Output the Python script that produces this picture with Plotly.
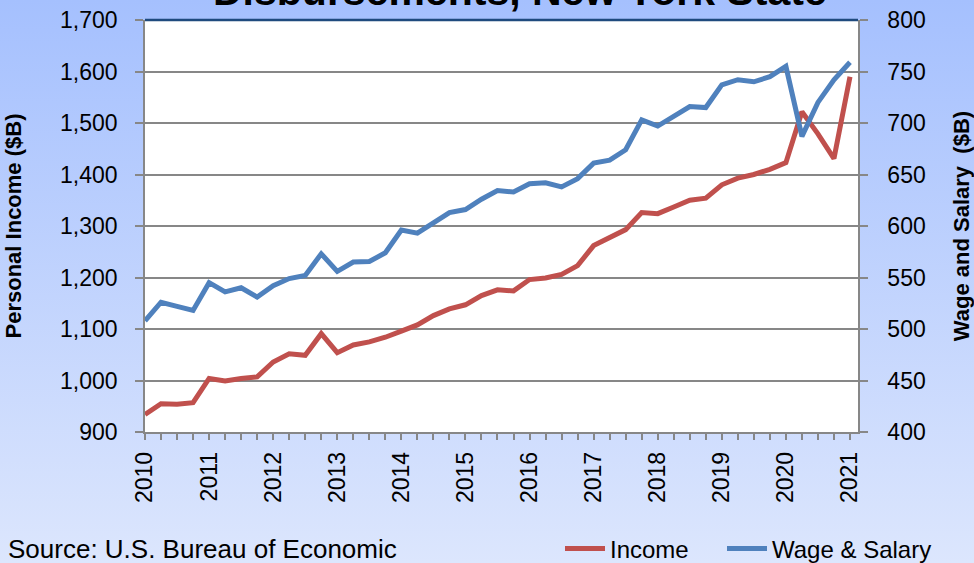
import base64
import plotly.graph_objects as go

# ---- data (quarterly, 2010Q1 .. 2021Q1) ----
quarters = list(range(45))
income = [934, 955, 954, 957, 1004, 999, 1004, 1007, 1036, 1052, 1049, 1091,
          1054, 1069, 1075, 1084, 1096, 1108, 1126, 1139, 1147, 1165, 1176,
          1174, 1196, 1199, 1206, 1223, 1262, 1278, 1293, 1326, 1324, 1337,
          1350, 1354, 1380, 1393, 1400, 1410, 1423, 1522, 1479, 1431, 1590]
wage = [508, 526, 522, 518, 545, 536, 540, 531, 542, 549, 552, 573,
        556, 565, 565.5, 574, 596, 593, 603, 613, 616, 626, 634.5,
        633, 641, 642, 638, 646, 661, 664, 674, 703, 697, 706,
        716, 715, 737, 742, 740, 745, 755, 687, 720, 742, 759]
years = [str(y) for y in range(2010, 2022)]
tick_text = [years[q // 4] if q % 4 == 0 else "" for q in quarters]

W, H = 974, 563
L, R, T, B = 145, 974 - 858, 20, 563 - 432
pw, ph = W - L - R, H - T - B

FONT = "Liberation Sans, Arial, sans-serif"
GRID = "#878787"

svg = ('<svg xmlns="http://www.w3.org/2000/svg" width="974" height="563">'
       '<defs><linearGradient id="g" x1="0" y1="0" x2="0" y2="1">'
       '<stop offset="0" stop-color="#A5C0FE"/><stop offset="1" stop-color="#DCE6FD"/>'
       '</linearGradient></defs><rect width="974" height="563" fill="url(#g)"/></svg>')
bg_src = "data:image/svg+xml;base64," + base64.b64encode(svg.encode()).decode()

fig = go.Figure()
fig.add_trace(go.Scatter(x=quarters, y=income, name="Income", mode="lines",
                         line=dict(color="#C0504D", width=5), legend="legend"))
fig.add_trace(go.Scatter(x=quarters, y=wage, name="Wage & Salary", mode="lines",
                         line=dict(color="#4F81BD", width=5), yaxis="y2", legend="legend2"))

leg_common = dict(orientation="h", y=-(549 - 432) / ph, xanchor="left", yanchor="middle",
                  bgcolor="rgba(0,0,0,0)", font=dict(size=24), itemwidth=40)

fig.update_layout(
    template="none",
    width=W, height=H,
    margin=dict(l=L, r=R, t=T, b=B, pad=0, autoexpand=False),
    paper_bgcolor="#C4D5FE",
    plot_bgcolor="rgba(0,0,0,0)",
    font=dict(family=FONT, color="#000000", size=22),
    images=[dict(source=bg_src, xref="paper", yref="paper",
                 x=-L / pw, y=1 + T / ph, sizex=W / pw, sizey=H / ph,
                 xanchor="left", yanchor="top", sizing="stretch", layer="below")],
    shapes=[
        dict(type="rect", xref="paper", yref="paper", x0=0, x1=1, y0=0, y1=1,
             fillcolor="white", line=dict(width=0), layer="below"),
        dict(type="line", xref="paper", yref="paper", x0=0, x1=1, y0=1, y1=1,
             line=dict(color="#1F4A7E", width=2.5)),
    ],
    xaxis=dict(range=[0, 44.5], tickvals=quarters, ticktext=tick_text, automargin=False,
               tickangle=-90, ticks="outside", ticklen=6, tickcolor=GRID, tickwidth=1.5,
               showline=True, linecolor=GRID, linewidth=1.5, showgrid=False,
               zeroline=False, tickfont=dict(size=23, family=FONT), ticklabelstandoff=3),
    yaxis=dict(range=[900, 1700], dtick=100, tickformat=",d", automargin=False,
               ticks="outside", ticklen=8, tickcolor=GRID, tickwidth=1.5,
               showline=True, linecolor=GRID, linewidth=1.5,
               showgrid=True, gridcolor=GRID, gridwidth=1.5, zeroline=False,
               tickfont=dict(size=23, family=FONT), ticklabelstandoff=13,
               title=dict(text="<b>Personal Income ($B)</b>", font=dict(size=22), standoff=32)),
    yaxis2=dict(range=[400, 800], dtick=50, overlaying="y", side="right", automargin=False,
                ticks="outside", ticklen=8, tickcolor=GRID, tickwidth=1.5,
                showline=True, linecolor=GRID, linewidth=1.5,
                showgrid=False, zeroline=False,
                tickfont=dict(size=23, family=FONT), ticklabelstandoff=15,
                title=dict(text="<b>Wage and Salary\u00a0\u00a0($B)</b>", font=dict(size=22), standoff=29)),
    showlegend=True,
    legend=dict(x=(560 - L) / pw, **leg_common),
    legend2=dict(x=(722 - L) / pw, **leg_common),
    annotations=[
        dict(text="<b>Disbursements, New York State</b>", xref="paper", yref="paper",
             x=(520 - L) / pw, y=1 + 4 / ph, xanchor="center", yanchor="bottom",
             showarrow=False, font=dict(size=41)),
        dict(text="Source: U.S. Bureau of Economic", xref="paper", yref="paper",
             x=-(L - 6) / pw, y=-(549 - 432) / ph, xanchor="left", yanchor="middle",
             showarrow=False, font=dict(size=26)),
    ],
)

fig.write_html("out.html", config={"displayModeBar": False},
               post_script="document.body.style.margin='0';document.body.style.overflow='hidden';")
